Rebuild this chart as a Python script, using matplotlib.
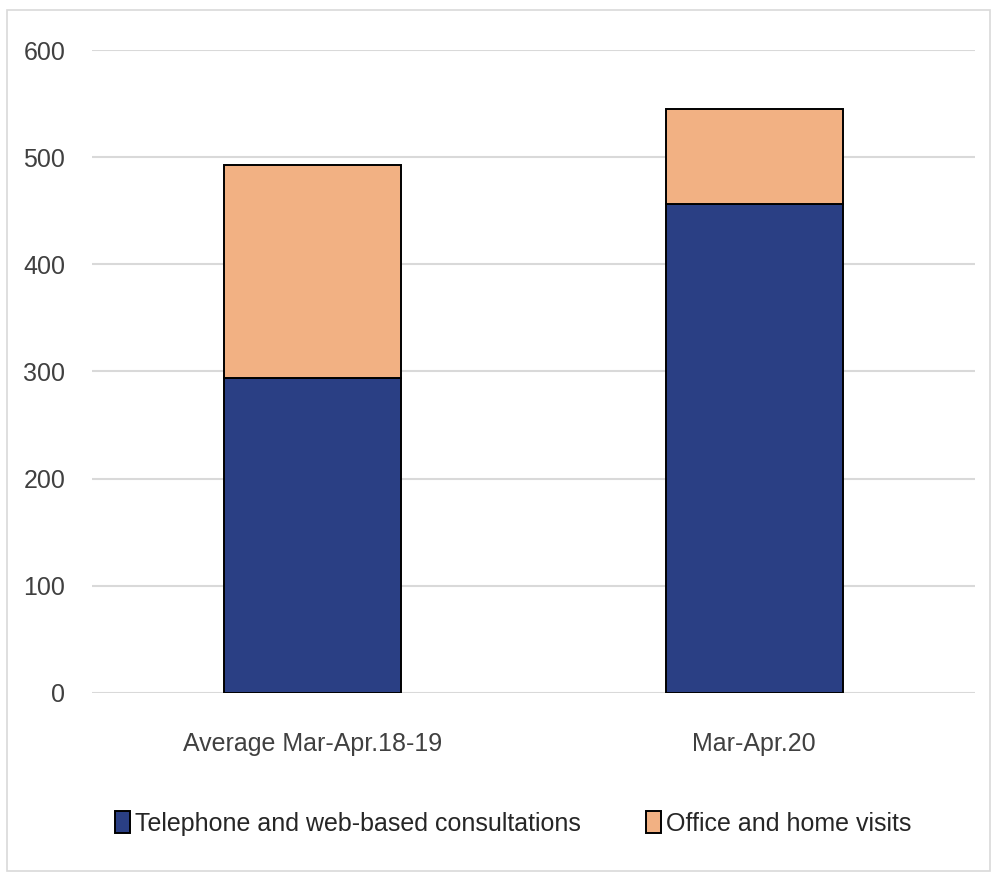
import matplotlib
matplotlib.use("Agg")
import matplotlib.pyplot as plt
from matplotlib.patches import Rectangle
import numpy as np

categories = ["Average Mar-Apr.18-19", "Mar-Apr.20"]
remote = [294, 456]
office = [199, 89]
series_labels = ["Telephone and web-based consultations", "Office and home visits"]
yticks = [0, 100, 200, 300, 400, 500, 600]

plt.rcParams['font.family'] = ['Liberation Sans Narrow', 'Liberation Sans', 'DejaVu Sans']


def main():
    fig = plt.figure(figsize=(9.97, 8.74), dpi=100)
    ax = fig.add_axes([0.092, 0.2075, 0.886, 0.735])

    # light frame around the whole chart
    fig.patches.append(Rectangle((0.007, 0.004), 0.986, 0.985, transform=fig.transFigure,
                                 fill=False, edgecolor="#d9d9d9", linewidth=1.2))

    x = np.arange(len(categories))
    width = 0.4
    b1 = ax.bar(x, remote, width, color="#2a3f84", edgecolor="black", linewidth=1.4,
                label=series_labels[0], zorder=3)
    b2 = ax.bar(x, office, width, bottom=remote, color="#f2b183", edgecolor="black",
                linewidth=1.4, label=series_labels[1], zorder=3)

    ax.set_xlim(-0.5, 1.5)
    ax.set_ylim(0, 600)
    ax.set_yticks(yticks)
    ax.set_xticks(x, categories)
    ax.tick_params(axis="both", length=0, labelsize=18, colors="#404040")
    ax.tick_params(axis="y", pad=19)
    ax.tick_params(axis="x", pad=28)
    ax.grid(axis="y", color="#d9d9d9", linewidth=1.5, zorder=0)
    for s in ax.spines.values():
        s.set_visible(False)

    fig.legend(handles=[b1, b2], loc="center", bbox_to_anchor=(0.515, 0.058), ncol=2,
               frameon=False, fontsize=18, handlelength=0.6, handleheight=1.0,
               handletextpad=0.2, columnspacing=2.6, labelcolor="#262626")

    fig.savefig("out.png", dpi=100)


if __name__ == "__main__":
    main()
